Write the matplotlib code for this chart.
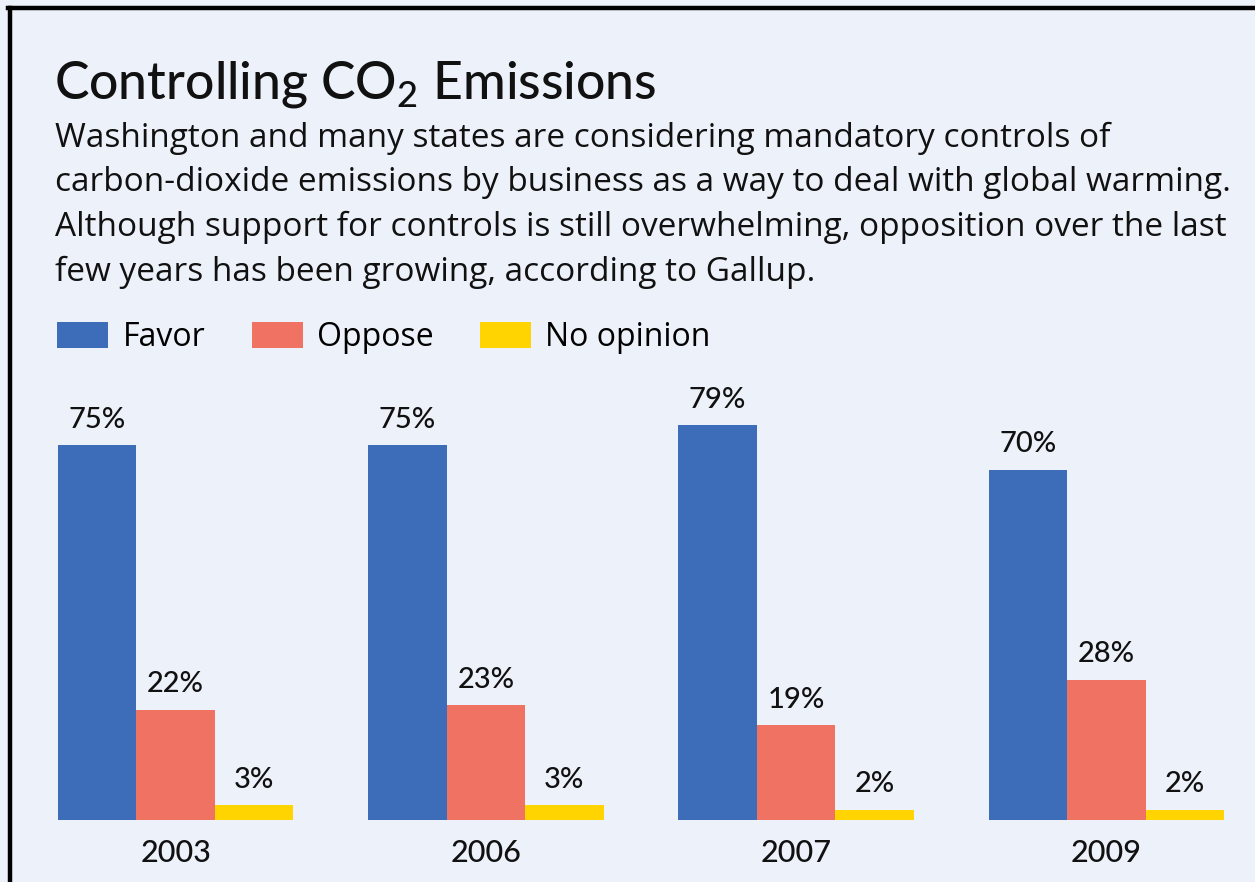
import matplotlib
matplotlib.use('Agg')
import matplotlib.pyplot as plt
from matplotlib.lines import Line2D
import numpy as np

plt.rcParams['font.family'] = ['Lato', 'DejaVu Sans']

years = ['2003', '2006', '2007', '2009']
favor = [75, 75, 79, 70]
oppose = [22, 23, 19, 28]
no_opinion = [3, 3, 2, 2]

series_names = ['Favor', 'Oppose', 'No opinion']
colors = ['#3d6db8', '#f07262', '#ffd400']

title = 'Controlling CO$_\\mathregular{2}$ Emissions'
intro = ('Washington and many states are considering mandatory controls of\n'
         'carbon-dioxide emissions by business as a way to deal with global warming.\n'
         'Although support for controls is still overwhelming, opposition over the last\n'
         'few years has been growing, according to Gallup.')

W, H = 1255, 882
bg = '#edf1fa'
fig = plt.figure(figsize=(W / 100, H / 100), dpi=100, facecolor=bg)

def fx(px):
    return px / W

def fy(py):
    return 1 - py / H

# frame lines top and left
fig.add_artist(Line2D([fx(8), fx(W)], [fy(8), fy(8)], color='black', lw=3.2))
fig.add_artist(Line2D([fx(10), fx(10)], [fy(8), fy(H)], color='black', lw=3.2))

fig.text(fx(54), fy(98), title, fontsize=37.3, fontweight='medium',
         color='#111111', va='baseline')
fig.text(fx(55), fy(122), intro, fontsize=24, color='#111111', va='top',
         linespacing=1.45, family=['Open Sans', 'DejaVu Sans'],
         fontweight='medium')

ax = fig.add_axes([0, fy(820), 1, (820 - 300) / H])
ax.set_facecolor('none')

x = np.arange(len(years))
w = 0.253
data = [favor, oppose, no_opinion]
bars = []
for i, (vals, name, c) in enumerate(zip(data, series_names, colors)):
    b = ax.bar(x + (i - 1) * w, vals, w, color=c, label=name, linewidth=0)
    bars.append(b)
    for rect, v in zip(b, vals):
        ax.annotate(f'{v}%', (rect.get_x() + rect.get_width() / 2, v),
                    xytext=(0, 9), textcoords='offset points',
                    ha='center', va='bottom', fontsize=21,
                    fontweight='medium', color='#111111')

ax.set_xlim(-0.566, 3.479)
ax.set_ylim(0, 104)
ax.set_xticks(x)
ax.set_xticklabels(years, fontsize=22, fontweight='medium', color='#111111')
ax.tick_params(axis='x', length=0, pad=14)
ax.set_yticks([])
for s in ax.spines.values():
    s.set_visible(False)

ax.legend(handles=bars, loc='upper left', bbox_to_anchor=(fx(57), fy(321)),
          bbox_transform=fig.transFigure, ncol=3, frameon=False,
          prop={'family': ['Open Sans', 'DejaVu Sans'], 'size': 23},
          handlelength=1.6, handleheight=0.9,
          handletextpad=0.45, columnspacing=1.45, borderpad=0, borderaxespad=0)

fig.savefig('out.png', dpi=100, facecolor=bg)
